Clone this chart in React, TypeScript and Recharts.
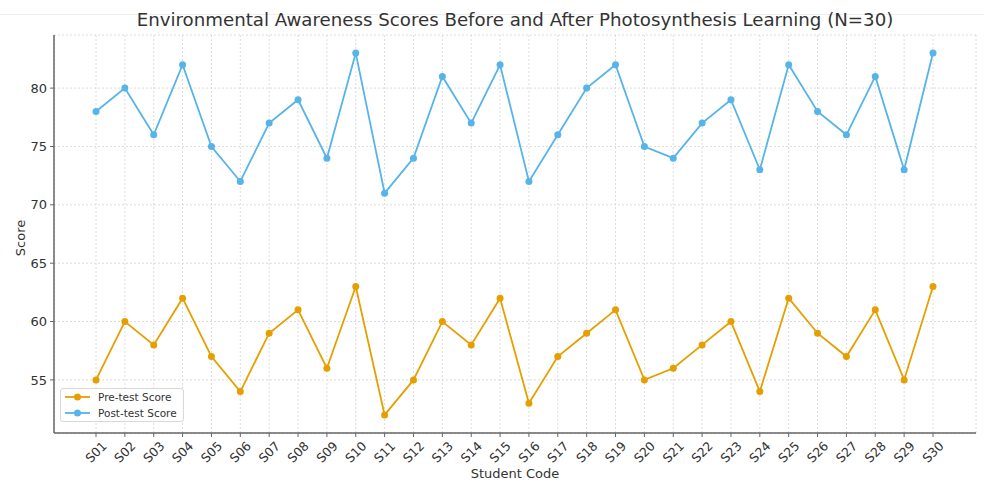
import { LineChart, Line, XAxis, YAxis, CartesianGrid } from 'recharts';

const students = [
  'S01', 'S02', 'S03', 'S04', 'S05', 'S06', 'S07', 'S08', 'S09', 'S10',
  'S11', 'S12', 'S13', 'S14', 'S15', 'S16', 'S17', 'S18', 'S19', 'S20',
  'S21', 'S22', 'S23', 'S24', 'S25', 'S26', 'S27', 'S28', 'S29', 'S30',
];
const preTest = [55, 60, 58, 62, 57, 54, 59, 61, 56, 63, 52, 55, 60, 58, 62, 53, 57, 59, 61, 55, 56, 58, 60, 54, 62, 59, 57, 61, 55, 63];
const postTest = [78, 80, 76, 82, 75, 72, 77, 79, 74, 83, 71, 74, 81, 77, 82, 72, 76, 80, 82, 75, 74, 77, 79, 73, 82, 78, 76, 81, 73, 83];
const yTicks = [55, 60, 65, 70, 75, 80];

const font = '"DejaVu Sans", sans-serif';
const textColor = '#333';
const preColor = '#E69F00';
const postColor = '#56B4E9';

const data = students.map((code, i) => ({ code, pre: preTest[i], post: postTest[i] }));

const renderRotatedTick = (props: any) => {
  const { x, y, payload } = props;
  return (
    <g transform={`translate(${x},${y + 15}) rotate(-45)`}>
      <text
        x={0}
        y={0}
        textAnchor="middle"
        dominantBaseline="central"
        fill={textColor}
        fontSize={12.5}
        fontFamily={font}
      >
        {payload.value}
      </text>
    </g>
  );
};

const legendItems = [
  { name: 'Pre-test Score', color: preColor },
  { name: 'Post-test Score', color: postColor },
];

export default function App() {
  return (
    <div style={{ position: 'absolute', left: 0, top: 0, width: 984, height: 484, background: '#fff' }}>
      <div style={{ position: 'absolute', left: 0, top: 14, width: 984, height: 1, background: '#eeeeee' }} />
      <div
        style={{
          position: 'absolute',
          left: 54,
          width: 922,
          top: 9,
          textAlign: 'center',
          fontFamily: font,
          fontSize: 18.2,
          color: textColor,
        }}
      >
        Environmental Awareness Scores Before and After Photosynthesis Learning (N=30)
      </div>
      <LineChart
        width={984}
        height={484}
        data={data}
        margin={{ top: 35, right: 8, bottom: 0, left: 0 }}
      >
        <CartesianGrid stroke="#dcdcdc" strokeDasharray="2 2" />
        <XAxis
          dataKey="code"
          height={51}
          padding={{ left: 42, right: 43 }}
          interval={0}
          tick={renderRotatedTick}
          tickSize={4}
          tickMargin={0}
          stroke="#666"
          axisLine={{ stroke: '#666', strokeWidth: 1.5 }}
        />
        <YAxis
          width={54}
          domain={[50.45, 84.55]}
          ticks={yTicks}
          tickSize={4}
          tickMargin={3}
          stroke="#666"
          axisLine={{ stroke: '#666', strokeWidth: 1.5 }}
          tick={{ fill: textColor, fontSize: 13, fontFamily: font }}
        />
        <Line
          dataKey="pre"
          name="Pre-test Score"
          stroke={preColor}
          strokeWidth={1.8}
          dot={{ r: 3.5, fill: preColor, stroke: preColor, strokeWidth: 0 }}
          isAnimationActive={false}
        />
        <Line
          dataKey="post"
          name="Post-test Score"
          stroke={postColor}
          strokeWidth={1.8}
          dot={{ r: 3.5, fill: postColor, stroke: postColor, strokeWidth: 0 }}
          isAnimationActive={false}
        />
      </LineChart>
      <div
        style={{
          position: 'absolute',
          left: 60,
          top: 388,
          border: '1px solid #d8d8d8',
          borderRadius: 3,
          background: 'rgba(255,255,255,0.85)',
          padding: '0px 6px 0px 3px',
          fontFamily: font,
          fontSize: 10.5,
          color: textColor,
          lineHeight: '16px',
        }}
      >
        {legendItems.map((item) => (
          <div key={item.name} style={{ display: 'flex', alignItems: 'center' }}>
            <svg width={28} height={16} style={{ marginRight: 6 }}>
              <line x1={1} y1={8} x2={26} y2={8} stroke={item.color} strokeWidth={1.8} />
              <circle cx={13.5} cy={8} r={3.5} fill={item.color} />
            </svg>
            {item.name}
          </div>
        ))}
      </div>
      <div
        style={{
          position: 'absolute',
          left: 54,
          width: 922,
          top: 466,
          textAlign: 'center',
          fontFamily: font,
          fontSize: 13,
          color: textColor,
        }}
      >
        Student Code
      </div>
      <div
        style={{
          position: 'absolute',
          left: 20,
          top: 238,
          transform: 'translate(-50%, -50%) rotate(-90deg)',
          fontFamily: font,
          fontSize: 13,
          color: textColor,
          whiteSpace: 'nowrap',
        }}
      >
        Score
      </div>
    </div>
  );
}
